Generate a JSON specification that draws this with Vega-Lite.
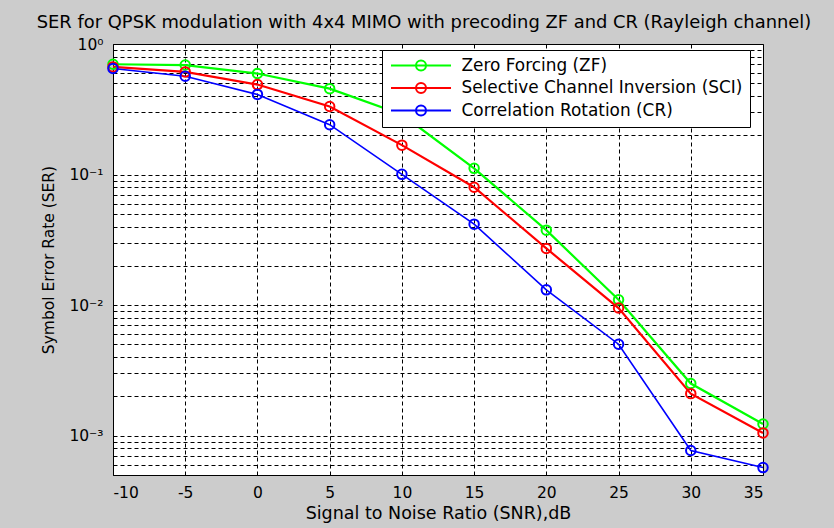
{
  "$schema": "https://vega.github.io/schema/vega-lite/v6.json",
  "autosize": {"type": "none"},
  "width": 650,
  "height": 431,
  "padding": {"left": 113, "top": 44, "right": 71, "bottom": 53},
  "background": "#cccccc",
  "config": {
    "view": {"fill": "white", "stroke": "black", "strokeWidth": 1},
    "font": "DejaVu Sans",
    "axis": {
      "domain": false,
      "grid": true,
      "gridColor": "black",
      "gridDash": [4, 3],
      "gridOpacity": 1,
      "gridWidth": 1,
      "ticks": false,
      "labelColor": "black",
      "titleColor": "black",
      "labelFont": "DejaVu Sans",
      "titleFont": "DejaVu Sans",
      "labelFontSize": 15.5,
      "titleFontSize": 16,
      "titleFontWeight": "normal"
    }
  },
  "title": {
    "text": "SER for QPSK modulation with 4x4 MIMO with precoding ZF and CR (Rayleigh channel)",
    "font": "DejaVu Sans",
    "fontSize": 17.9,
    "fontWeight": "normal",
    "color": "black",
    "anchor": "middle",
    "dx": -14,
    "offset": 5
  },
  "data": {
    "values": [
      {"snr": -10, "ser": 0.70, "scheme": "Zero Forcing (ZF)"},
      {"snr": -5, "ser": 0.69, "scheme": "Zero Forcing (ZF)"},
      {"snr": 0, "ser": 0.594, "scheme": "Zero Forcing (ZF)"},
      {"snr": 5, "ser": 0.455, "scheme": "Zero Forcing (ZF)"},
      {"snr": 10, "ser": 0.288, "scheme": "Zero Forcing (ZF)"},
      {"snr": 15, "ser": 0.1116, "scheme": "Zero Forcing (ZF)"},
      {"snr": 20, "ser": 0.0375, "scheme": "Zero Forcing (ZF)"},
      {"snr": 25, "ser": 0.011, "scheme": "Zero Forcing (ZF)"},
      {"snr": 30, "ser": 0.00251, "scheme": "Zero Forcing (ZF)"},
      {"snr": 35, "ser": 0.00123, "scheme": "Zero Forcing (ZF)"},
      {"snr": -10, "ser": 0.668, "scheme": "Selective Channel Inversion (SCI)"},
      {"snr": -5, "ser": 0.611, "scheme": "Selective Channel Inversion (SCI)"},
      {"snr": 0, "ser": 0.489, "scheme": "Selective Channel Inversion (SCI)"},
      {"snr": 5, "ser": 0.332, "scheme": "Selective Channel Inversion (SCI)"},
      {"snr": 10, "ser": 0.168, "scheme": "Selective Channel Inversion (SCI)"},
      {"snr": 15, "ser": 0.080, "scheme": "Selective Channel Inversion (SCI)"},
      {"snr": 20, "ser": 0.0272, "scheme": "Selective Channel Inversion (SCI)"},
      {"snr": 25, "ser": 0.0095, "scheme": "Selective Channel Inversion (SCI)"},
      {"snr": 30, "ser": 0.0021, "scheme": "Selective Channel Inversion (SCI)"},
      {"snr": 35, "ser": 0.00105, "scheme": "Selective Channel Inversion (SCI)"},
      {"snr": -10, "ser": 0.649, "scheme": "Correlation Rotation (CR)"},
      {"snr": -5, "ser": 0.566, "scheme": "Correlation Rotation (CR)"},
      {"snr": 0, "ser": 0.411, "scheme": "Correlation Rotation (CR)"},
      {"snr": 5, "ser": 0.241, "scheme": "Correlation Rotation (CR)"},
      {"snr": 10, "ser": 0.1004, "scheme": "Correlation Rotation (CR)"},
      {"snr": 15, "ser": 0.0417, "scheme": "Correlation Rotation (CR)"},
      {"snr": 20, "ser": 0.0131, "scheme": "Correlation Rotation (CR)"},
      {"snr": 25, "ser": 0.00502, "scheme": "Correlation Rotation (CR)"},
      {"snr": 30, "ser": 0.00077, "scheme": "Correlation Rotation (CR)"},
      {"snr": 35, "ser": 0.00057, "scheme": "Correlation Rotation (CR)"}
    ]
  },
  "encoding": {
    "x": {
      "field": "snr",
      "type": "quantitative",
      "scale": {"domain": [-10, 35], "nice": false, "zero": false},
      "axis": {
        "values": [-10, -5, 0, 5, 10, 15, 20, 25, 30, 35],
        "labelExpr": "replace(datum.label, '−', '-')",
        "title": "Signal to Noise Ratio (SNR),dB",
        "titleFontSize": 17.5,
        "labelPadding": 10,
        "titlePadding": 4
      }
    },
    "y": {
      "field": "ser",
      "type": "quantitative",
      "scale": {"type": "log", "domain": [0.0005, 1], "nice": false},
      "axis": {
        "values": [0.0005, 0.0006, 0.0007, 0.0008, 0.0009, 0.001, 0.002, 0.003, 0.004, 0.005, 0.006, 0.007, 0.008, 0.009, 0.01, 0.02, 0.03, 0.04, 0.05, 0.06, 0.07, 0.08, 0.09, 0.1, 0.2, 0.3, 0.4, 0.5, 0.6, 0.7, 0.8, 0.9, 1],
        "labelExpr": "datum.value == 1 ? '10⁰' : datum.value == 0.1 ? '10⁻¹' : datum.value == 0.01 ? '10⁻²' : datum.value == 0.001 ? '10⁻³' : ''",
        "labelPadding": 10,
        "title": "Symbol Error Rate (SER)",
        "titleFontSize": 15.5,
        "titlePadding": 12
      }
    },
    "color": {
      "field": "scheme",
      "type": "nominal",
      "sort": null,
      "scale": {
        "domain": ["Zero Forcing (ZF)", "Selective Channel Inversion (SCI)", "Correlation Rotation (CR)"],
        "range": ["#00ff00", "#ff0000", "#0000ff"]
      },
      "legend": {
        "title": null,
        "orient": "none",
        "legendX": 269,
        "legendY": 6,
        "fillColor": "white",
        "strokeColor": "black",
        "padding": 7,
        "rowPadding": 3.5,
        "labelFont": "DejaVu Sans",
        "labelFontSize": 16.9,
        "labelColor": "black",
        "labelLimit": 400,
        "symbolType": "M-4,0L4,0M0.667,0A0.667,0.667,0,1,1,-0.667,0A0.667,0.667,0,1,1,0.667,0",
        "symbolSize": 225,
        "symbolOffset": 23.5,
        "labelOffset": 32,
        "symbolStrokeWidth": 2,
        "symbolFillColor": "transparent"
      }
    }
  },
  "layer": [
    {
      "mark": {"type": "line", "clip": false},
      "encoding": {
        "strokeWidth": {
          "condition": {"test": "datum.scheme == 'Correlation Rotation (CR)'", "value": 1.6},
          "value": 2.2
        }
      }
    },
    {
      "mark": {"type": "point", "shape": "circle", "filled": false, "size": 90, "strokeWidth": 2, "opacity": 1, "clip": false}
    }
  ]
}
